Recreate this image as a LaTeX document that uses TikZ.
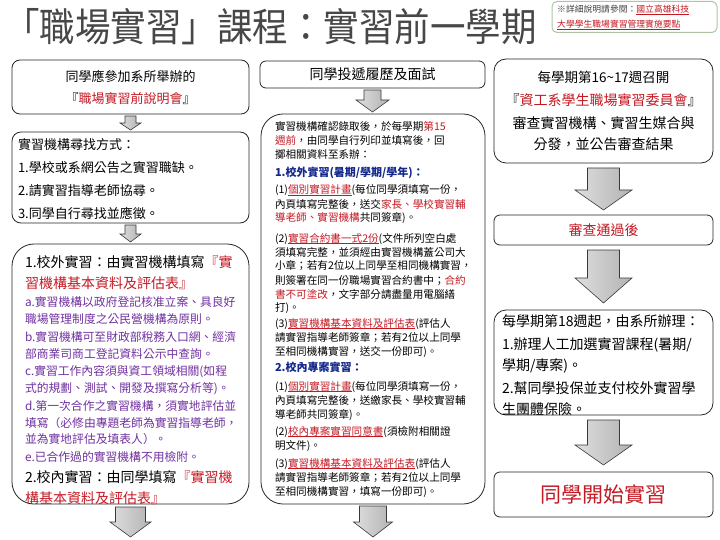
\documentclass[tikz,border=0pt]{standalone}
\usepackage{fontspec}
\usepackage{graphicx}
\setmainfont{Noto Sans CJK TC}
\usetikzlibrary{calc}
\definecolor{cred}{RGB}{195,25,35}
\definecolor{cpurple}{RGB}{112,48,160}
\definecolor{cblue}{RGB}{20,40,140}
\definecolor{cnote}{RGB}{175,195,165}
\newcommand\rd[1]{\textcolor{cred}{#1}}
\newcommand\rdu[1]{\textcolor{cred}{\setbox0\hbox{#1}\rlap{\rule[-0.18em]{\wd0}{0.04em}}\box0}}
\newcommand\blockarr[5]{%
  \path[barrow] let \p1=(#1), \p2=(#2) in
    (\x1-#3pt,\y1) -- (\x1+#3pt,\y1) -- (\x1+#3pt,\y2+#5pt) -- (\x1+#4pt,\y2+#5pt)
    -- (\x1,\y2) -- (\x1-#4pt,\y2+#5pt) -- (\x1-#3pt,\y2+#5pt) -- cycle;}
\tikzset{
 box/.style={draw=black!85, line width=0.8pt, rounded corners=#1, inner sep=0pt, outer sep=0pt, anchor=north west},
 box/.default=8pt,
 txt/.style={inner sep=0pt, outer sep=0pt, anchor=base west, align=left, text width=215pt},
 barrow/.style={left color=gray!25, right color=gray!60, draw=gray!45!black, line width=0.6pt, line join=miter},
}
\begin{document}
\begin{tikzpicture}[x=1pt,y=1pt]
\useasboundingbox (0,0) rectangle (720,-540);
% title
\node[anchor=base west, inner sep=0pt, text=black!72, font=\fontsize{35.5}{36}\selectfont] (title) at (4,-41.5) {\scalebox{1}[1.1]{「職場實習」課程：實習前一學期}};
% note
\node[box=5pt, draw=cnote, line width=1pt, minimum width=165pt, minimum height=31pt] (note) at (552,-1.5) {};
\node[anchor=base west, inner sep=0pt, text=black!75, font=\fontsize{8.8}{10}\selectfont] (notel1) at (557,-12.8) {※詳細說明請參閱：\rdu{國立高雄科技}};
\node[anchor=base west, inner sep=0pt, font=\fontsize{8.8}{10}\selectfont] (notel2) at (557,-28) {\rdu{大學學生職場實習管理實施要點}};
% left column
\node[box=8pt, minimum width=237pt, minimum height=54pt, align=center, font=\fontsize{13}{22}\selectfont] (L1) at (12,-60) {同學應參加系所舉辦的\\『\rd{職場實習前說明會}』};
\node[box=9pt, minimum width=237pt, minimum height=91pt] (L2) at (12,-132) {};
\node[txt, font=\fontsize{13}{22.7}\selectfont] (L2t) at (18,-150) {實習機構尋找方式：\\1.學校或系網公告之實習職缺。\\2.請實習指導老師協尋。\\3.同學自行尋找並應徵。};
\node[box=22pt, minimum width=237pt, minimum height=260pt] (L3) at (12,-244) {};
\node[txt, font=\fontsize{14}{21}\selectfont] (L3h1) at (25,-267.3) {1.校外實習：由實習機構填寫\rd{『實}\\\rd{習機構基本資料及評估表』}};
\node[txt, text=cpurple, font=\fontsize{11.8}{16.5}\selectfont] (L3a) at (25,-306.5) {a.實習機構以政府登記核准立案、具良好\\職場管理制度之公民營機構為原則。};
\node[txt, text=cpurple, font=\fontsize{11.8}{16.5}\selectfont] (L3b) at (25,-341.5) {b.實習機構可至財政部稅務入口網、經濟\\部商業司商工登記資料公示中查詢。};
\node[txt, text=cpurple, font=\fontsize{11.8}{16.5}\selectfont] (L3c) at (25,-375.5) {c.實習工作內容須與資工領域相關(如程\\式的規劃、測試、開發及撰寫分析等)。};
\node[txt, text=cpurple, font=\fontsize{11.8}{16.5}\selectfont] (L3d) at (25,-410.5) {d.第一次合作之實習機構，須實地評估並\\填寫（必修由專題老師為實習指導老師，\\並為實地評估及填表人）。};
\node[txt, text=cpurple, font=\fontsize{11.8}{16.5}\selectfont] (L3e) at (25,-461.5) {e.已合作過的實習機構不用檢附。};
\node[txt, font=\fontsize{14}{21}\selectfont] (L3h2) at (25,-482.3) {2.校內實習：由同學填寫\rd{『實習機}\\\rd{構基本資料及評估表』}};
% middle column
\node[box=6pt, minimum width=225pt, minimum height=27pt, font=\fontsize{14}{16}\selectfont] (M1) at (260,-61) {同學投遞履歷及面試};
\node[box=22pt, minimum width=224pt, minimum height=390pt] (M2) at (261,-114) {};
\node[txt, font=\fontsize{10.6}{14}\selectfont] (M2p0) at (275,-131) {實習機構確認錄取後，於每學期\rd{第15}\\\rd{週前}，由同學自行列印並填寫後，回\\擲相關資料至系辦：};
\node[txt, text=cblue, font=\fontsize{11}{14}\selectfont\bfseries] (M2b1) at (275,-176.2) {1.校外實習(暑期/學期/學年)：};
\node[txt, font=\fontsize{10.6}{14}\selectfont] (M2p1) at (275,-194) {(1)\rdu{個別實習計畫}(每位同學須填寫一份，\\內頁填寫完整後，送交\rd{家長、學校實習輔}\\\rd{導老師、實習機構}共同簽章)。};
\node[txt, font=\fontsize{10.6}{14}\selectfont] (M2p2) at (275,-242) {(2)\rdu{實習合約書一式2份}(文件所列空白處\\須填寫完整，並須經由實習機構蓋公司大\\小章；若有2位以上同學至相同機構實習，\\則簽署在同一份職場實習合約書中；\rd{合約}\\\rd{書不可塗改}，文字部分請盡量用電腦繕\\打)。};
\node[txt, font=\fontsize{10.6}{14}\selectfont] (M2p3) at (275,-327) {(3)\rdu{實習機構基本資料及評估表}(評估人\\請實習指導老師簽章；若有2位以上同學\\至相同機構實習，送交一份即可)。};
\node[txt, text=cblue, font=\fontsize{11}{14}\selectfont\bfseries] (M2b2) at (275,-371.2) {2.校內專案實習：};
\node[txt, font=\fontsize{10.6}{14}\selectfont] (M2p4) at (275,-390) {(1)\rdu{個別實習計畫}(每位同學須填寫一份，\\內頁填寫完整後，送繳家長、學校實習輔\\導老師共同簽章)。};
\node[txt, font=\fontsize{10.6}{14}\selectfont] (M2p5) at (275,-435) {(2)\rdu{校內專案實習同意書}(須檢附相關證\\明文件)。};
\node[txt, font=\fontsize{10.6}{14}\selectfont] (M2p6) at (275,-467) {(3)\rdu{實習機構基本資料及評估表}(評估人\\請實習指導老師簽章；若有2位以上同學\\至相同機構實習，填寫一份即可)。};
% right column
\node[box=12pt, minimum width=219pt, minimum height=104pt, align=center, font=\fontsize{14}{23}\selectfont] (R1) at (494,-59) {{\fontsize{13.5}{23}\selectfont 每學期第16\textasciitilde 17週召開}\\『\rd{資工系學生職場實習委員會}』\\審查實習機構、實習生媒合與\\[-2pt]分發，並公告審查結果};
\node[box=6pt, minimum width=219pt, minimum height=30pt, text=cred, font=\fontsize{14}{16}\selectfont] (R2) at (494,-215) {審查通過後};
\node[box=12pt, minimum width=219pt, minimum height=105pt] (R3) at (494,-310) {};
\node[txt, font=\fontsize{14}{21}\selectfont] (R3t) at (502,-326.3) {每學期第18週起，由系所辦理：\\[2pt]1.辦理人工加選實習課程(暑期/\\學期/專案)。\\[2pt]2.幫同學投保並支付校外實習學\\生團體保險。};
\node[box=6pt, minimum width=219pt, minimum height=45pt, text=cred, font=\fontsize{21}{24}\selectfont] (R4) at (494,-472) {同學開始實習};
% arrows
\coordinate (Lend) at (130.5,-537);
\coordinate (Mend) at (373,-537);
\blockarr{$(L1.south)+(0,-2)$}{$(L2.north)+(0,2)$}{5.5}{10.5}{7}
\blockarr{$(L2.south)+(0,-2)$}{$(L3.north)+(0,2)$}{5.5}{10.5}{8}
\blockarr{$(L3.south)+(0,-3)$}{Lend}{15}{20.5}{15}
\blockarr{$(M1.south)+(0,-2)$}{$(M2.north)+(0,2)$}{8.5}{16.5}{12}
\blockarr{$(M2.south)+(0,-2)$}{Mend}{13.5}{19.5}{15}
\blockarr{$(R1.south)+(0,-5)$}{$(R2.north)+(0,5)$}{16}{28.5}{20}
\blockarr{$(R2.south)+(0,-5)$}{$(R3.north)+(0,7)$}{16}{28.5}{25}
\blockarr{$(R3.south)+(0,-5)$}{$(R4.north)+(0,7)$}{16}{28.5}{20}
\end{tikzpicture}
\end{document}
